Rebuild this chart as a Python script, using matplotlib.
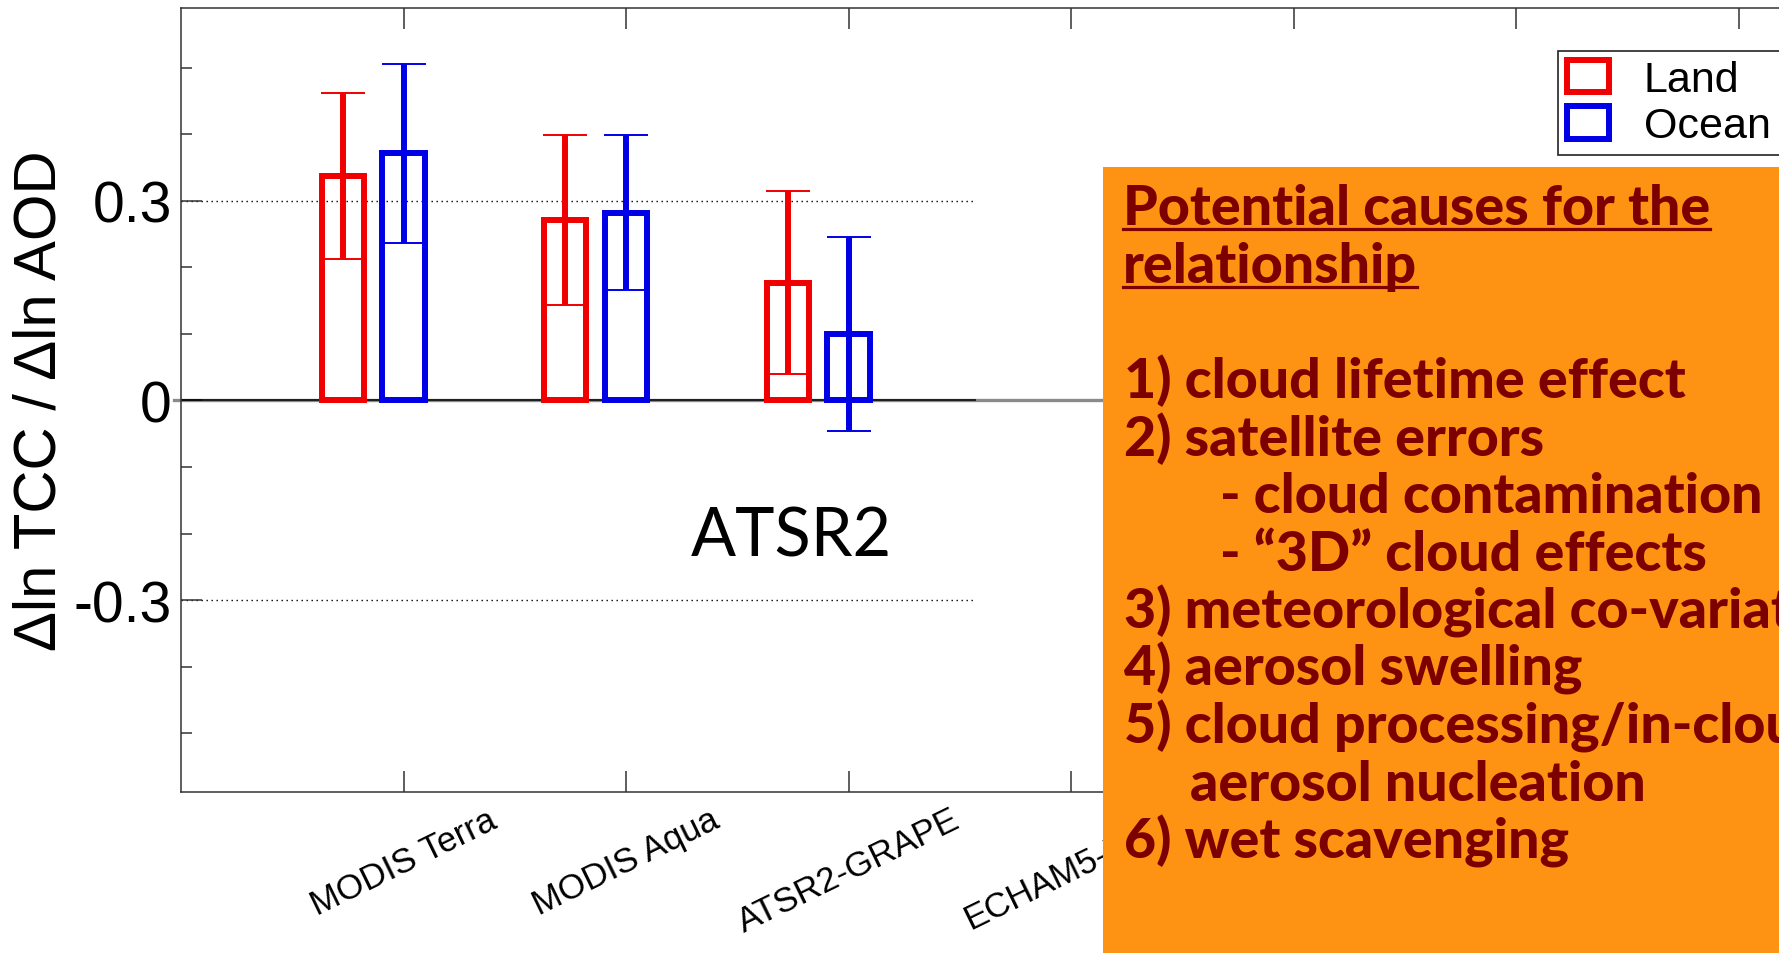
import matplotlib
matplotlib.use("Agg")
import matplotlib.pyplot as plt
from matplotlib.patches import Rectangle
from matplotlib.lines import Line2D
import numpy as np

# ---- data -------------------------------------------------------------
products = ["MODIS Terra", "MODIS Aqua", "ATSR2-GRAPE", "ECHAM5-HAM"]
land = [0.337, 0.271, 0.177]
land_err = [0.125, 0.128, 0.137]
ocean = [0.371, 0.282, 0.100]
ocean_err = [0.135, 0.116, 0.146]
series_names = ["Land", "Ocean"]
ytick_values = [-0.3, 0.0, 0.3]
ytick_labels = ["-0.3", "0", "0.3"]
yminor_values = [-0.5, -0.4, -0.2, -0.1, 0.1, 0.2, 0.4, 0.5]
ylabel = "\u0394ln TCC / \u0394ln AOD"
panel_name = "ATSR2"
heading = ["Potential causes for the", "relationship"]
causes = [
    "1) cloud lifetime effect",
    "2) satellite errors",
    "- cloud contamination",
    "- \u201c3D\u201d cloud effects",
    "3) meteorological co-variation",
    "4) aerosol swelling",
    "5) cloud processing/in-cloud",
    "aerosol nucleation",
    "6) wet scavenging",
]

# ---- style ------------------------------------------------------------
RED = "#f00000"
BLUE = "#0000e6"
ORANGE = "#fd9213"
MAROON = "#7d0000"
SANS = ["Liberation Sans", "DejaVu Sans"]
BOX_FONT = ["Lato", "DejaVu Sans"]

W, H, DPI = 1779, 954, 100
fig = plt.figure(figsize=(W / DPI, H / DPI), dpi=DPI)
fig.patch.set_facecolor("white")

# axes frame in pixel units
ax_left, ax_top, ax_bottom = 181, 9.3, 792.7
unit_px = 222.5
n_slots = 8
ax = fig.add_axes([ax_left / W, 1 - ax_bottom / H,
                   n_slots * unit_px / W, (ax_bottom - ax_top) / H])
ax.set_xlim(0, n_slots)
ax.set_ylim(-0.5875, 0.589)

x = np.arange(1, len(land) + 1)
offset = 0.273
bar_w = 0.189

# reference lines
grid_end = 3.575
ax.axhline(0, xmin=-0.004, xmax=1, color="#8a8a8a", lw=2.4,
           clip_on=False, zorder=1.5)
ax.hlines(0, 0, grid_end, colors="black", lw=1.1, zorder=1.8)
ax.hlines([-0.3, 0.3], 0, grid_end, colors="black", lw=1.0,
          linestyles=[(0, (1, 2.6))], zorder=1)

# bars and error bars
ax.bar(x - offset, land, width=bar_w, fill=False, edgecolor=RED,
       linewidth=4.3, joinstyle="miter", zorder=3, label=series_names[0])
ax.bar(x, ocean, width=bar_w, fill=False, edgecolor=BLUE,
       linewidth=4.3, joinstyle="miter", zorder=3, label=series_names[1])
ax.errorbar(x - offset, land, yerr=land_err, fmt="none", ecolor=RED,
            elinewidth=4.3, capsize=15.5, capthick=1.4, zorder=4)
ax.errorbar(x, ocean, yerr=ocean_err, fmt="none", ecolor=BLUE,
            elinewidth=4.3, capsize=15.5, capthick=1.4, zorder=4)

# ticks
ax.set_xticks(np.arange(1, n_slots))
ax.set_xticklabels(products + [""] * (n_slots - 1 - len(products)),
                   rotation=26, fontsize=25, family=SANS)
ax.set_yticks(ytick_values)
ax.set_yticklabels(ytick_labels, fontsize=41, family=SANS)
ax.set_yticks(yminor_values, minor=True)
ax.tick_params(which="both", direction="in", top=True, right=True,
               color="#333333", width=1.1)
ax.tick_params(which="major", length=15)
ax.tick_params(which="minor", length=8)
ax.tick_params(axis="x", pad=8)
ax.tick_params(axis="y", pad=6.5)
for sp in ax.spines.values():
    sp.set_linewidth(1.1)
    sp.set_color("#333333")

ax.set_ylabel(ylabel, fontsize=43, family=SANS, va="center")
ax.yaxis.set_label_coords((40 - ax_left) / (n_slots * unit_px), 0.5)

ax.text(2.742, -0.2334, panel_name, ha="center", va="baseline",
        fontsize=48, family=BOX_FONT, color="black")

leg = ax.legend(loc="upper left", bbox_to_anchor=(1558 / W, 1 - 52 / H),
                bbox_transform=fig.transFigure, borderaxespad=0,
                fancybox=False, framealpha=1, edgecolor="#222222",
                prop={"family": SANS, "size": 31},
                handlelength=0.98, handleheight=0.78, handletextpad=0.8,
                labelspacing=0.14, borderpad=0.21)
leg.get_frame().set_linewidth(1.2)

# ---- annotation panel ---------------------------------------------------
fig.add_artist(Rectangle((1103 / W, 0), 1 - 1103 / W + 0.01, 1 - 168.3 / H,
                         transform=fig.transFigure, facecolor=ORANGE,
                         edgecolor="none", zorder=5))

box_kw = dict(fontsize=40, fontweight="black", family=BOX_FONT,
              color=MAROON, ha="left", va="baseline", zorder=6)
head_texts = []
for i, line in enumerate(heading):
    t = fig.text(1123 / W, 1 - (225 + 58 * i) / H, line, **box_kw)
    head_texts.append(t)

cause_x = [1124, 1124, 1220, 1220, 1124, 1124, 1124, 1189.5, 1124]
for i, line in enumerate(causes):
    fig.text(cause_x[i] / W, 1 - (398 + 57.6 * i) / H, line, **box_kw)

fig.canvas.draw()
renderer = fig.canvas.get_renderer()
for i, t in enumerate(head_texts):
    bb = t.get_window_extent(renderer)
    yb = H - (225 + 58 * i) - 5
    fig.add_artist(Line2D([bb.x0 / W, bb.x1 / W], [yb / H, yb / H],
                          transform=fig.transFigure, color=MAROON,
                          lw=2.3, zorder=6))

fig.savefig("out.png", dpi=DPI)
